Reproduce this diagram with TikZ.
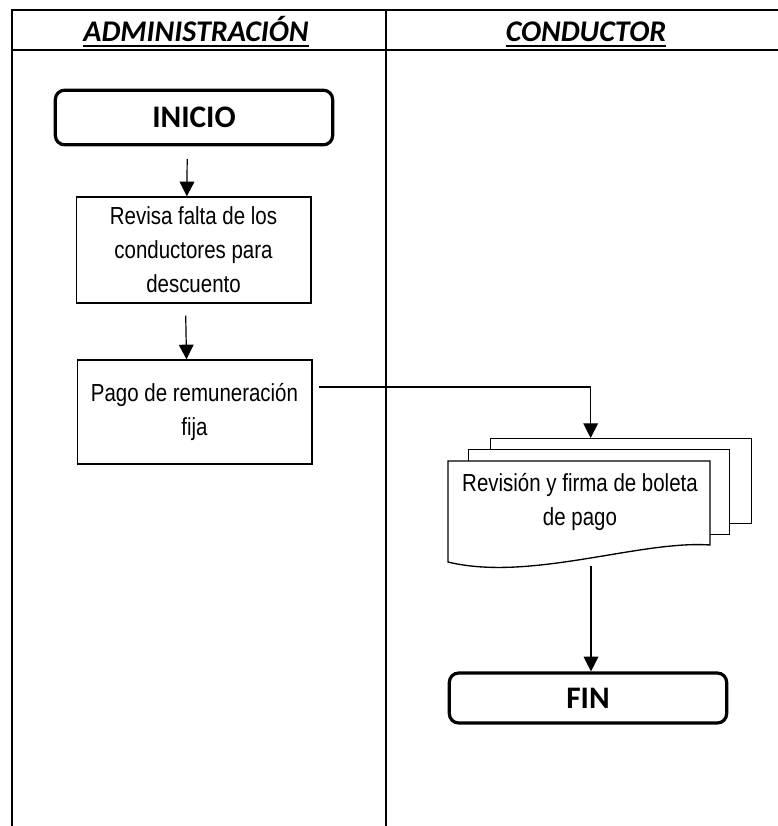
\documentclass[tikz,border=0pt]{standalone}
\usepackage{fontspec}
\setmainfont{Liberation Sans}
\newfontfamily\narrow[FakeStretch=0.83]{Liberation Sans}
\newfontfamily\calibri{Carlito}
\usetikzlibrary{arrows.meta,calc}

\begin{document}
\begin{tikzpicture}[x=0.75pt,y=-0.75pt,
  carril/.style={line width=1.4pt},
  cabecera/.style={inner sep=0pt,anchor=base,font=\calibri\fontsize{22.5}{26}\selectfont\bfseries\itshape},
  terminal/.style={draw,line width=2.4pt,rounded corners=7pt,minimum width=208pt,
    font=\calibri\fontsize{23.5}{26}\selectfont\bfseries},
  proceso/.style={draw,line width=1pt,minimum width=176pt,align=center,
    font=\narrow\fontsize{18.5}{25.5}\selectfont},
  hoja/.style={draw,fill=white,line width=1pt,minimum width=196pt,minimum height=63.5pt},
  flecha/.style={line width=0.9pt,-{Triangle[width=11pt,length=11pt]}}]
\useasboundingbox (0,0) rectangle (778,826);
% carriles
\draw[carril] (778,10) -- (12,10) -- (12,826);
\draw[carril] (12,50) -- (778,50);
\draw[carril] (386,10) -- (386,826);
\node[cabecera] (hadm) at (196,41) {ADMINISTRACIÓN};
\node[cabecera] (hcond) at (586,41) {CONDUCTOR};
\draw[line width=1.2pt] ($(hadm.base west)+(0,5)$) -- ($(hadm.base east)+(0,5)$);
\draw[line width=1.2pt] ($(hcond.base west)+(0,5)$) -- ($(hcond.base east)+(0,5)$);
% administracion
\node[terminal,minimum height=41pt] (inicio) at (194,117.5) {INICIO};
\node[proceso,minimum height=79.5pt] (revisa) at (193.5,250)
  {Revisa falta de los\\conductores para\\descuento};
\node[proceso,minimum height=78pt] (pago) at (194.5,412)
  {Pago de remuneración\\fija};
% conductor
\node[hoja] (hoja3) at (621,481) {};
\node[hoja] (hoja2) at (599,492) {};
\draw[fill=white,line width=1pt] (448,461) -- (710,461) -- (710,545)
  .. controls (640,540) and (530,582) .. (448,562) -- cycle;
\node[font=\narrow\fontsize{18.5}{25.5}\selectfont,align=center] (boleta) at (580,502)
  {Revisión y firma de boleta\\de pago};
\node[terminal,minimum height=37.5pt] (fin) at (588,698) {FIN};
% flechas
\draw[flecha,shorten <=9.5pt] ([xshift=-5pt]inicio.south) -- ([xshift=-5pt]revisa.north);
\draw[flecha,shorten <=9pt] ([xshift=-6pt]revisa.south) -- ([xshift=-6pt]pago.north);
\coordinate (sal) at (319,387);
\draw[flecha] (sal) -| ($(hoja3.north west)+(101,0)$);
\coordinate (docsal) at (591,566);
\draw[flecha] (docsal) -- (docsal |- fin.north);
\end{tikzpicture}
\end{document}
